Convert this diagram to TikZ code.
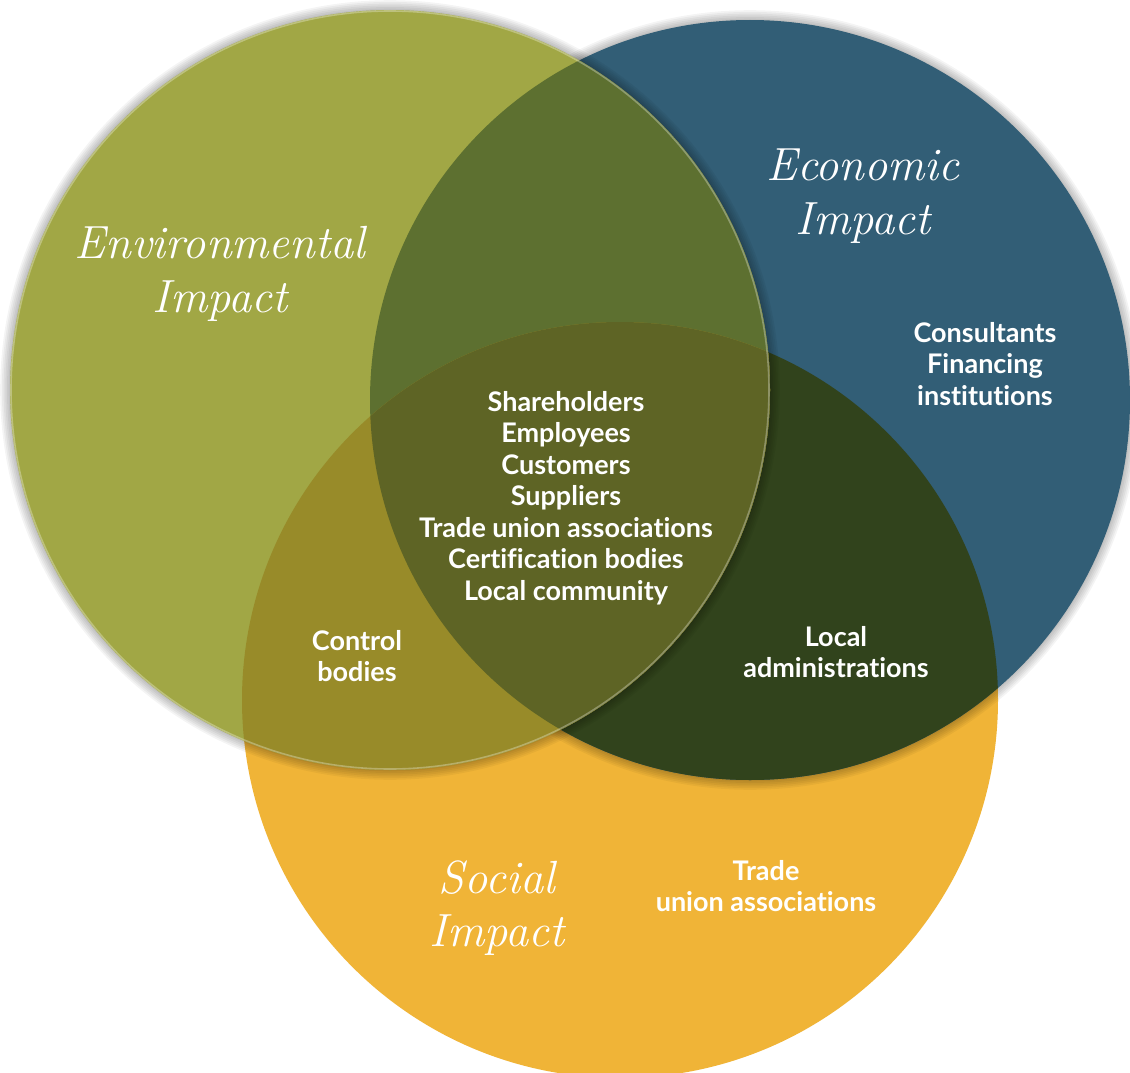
\documentclass[tikz,border=0pt]{standalone}
\usepackage{fontspec}
\setmainfont{Latin Modern Roman}
\newfontfamily\labelfont[Ligatures=NoCommon]{Lato}
\usetikzlibrary{calc}

\definecolor{envgreen}{HTML}{A1A745}
\definecolor{ecoblue}{HTML}{325E76}
\definecolor{socyellow}{HTML}{F0B437}
\definecolor{envEco}{HTML}{5D7030}
\definecolor{envSoc}{HTML}{988B29}
\definecolor{ecoSoc}{HTML}{31431C}
\definecolor{allThree}{HTML}{5E6425}

\tikzset{
  title/.style={text=white, align=center,
    font={\fontsize{46.5}{53.5}\selectfont\itshape}},
  stakeholders/.style={text=white, align=center,
    font={\labelfont\bfseries\fontsize{27}{31.5}\selectfont}},
  rim/.style={draw=white, draw opacity=0.3, line width=1.6pt}
}

% soft drop shadow: stacked translucent discs around a shifted centre
\newcommand{\softshadow}[1]{%
  \foreach \k in {1,...,14}
    \fill[black, opacity=0.045, shift={(9,12)}] (#1) circle[radius={366+1.7*\k}];
}

\begin{document}
\begin{tikzpicture}[x=1pt,y=-1pt]
  \useasboundingbox (0,0) rectangle (1130,1073);
  \clip (0,0) rectangle (1130,1073);
  \fill[white] (0,0) rectangle (1130,1073);

  \coordinate (G) at (390,390);
  \coordinate (B) at (750,400);
  \coordinate (Y) at (620,700);

  % social circle
  \fill[socyellow] (Y) circle[radius=378];

  % economic circle
  \softshadow{B}
  \fill[ecoblue] (B) circle[radius=380];
  \begin{scope}
    \clip (Y) circle[radius=378];
    \fill[ecoSoc] (B) circle[radius=380];
  \end{scope}

  % environmental circle
  \softshadow{G}
  \fill[envgreen] (G) circle[radius=380];
  \begin{scope}
    \clip (B) circle[radius=380];
    \fill[envEco] (G) circle[radius=380];
  \end{scope}
  \begin{scope}
    \clip (Y) circle[radius=378];
    \fill[envSoc] (G) circle[radius=380];
    \clip (B) circle[radius=380];
    \fill[allThree] (G) circle[radius=380];
  \end{scope}
  \draw[rim] (G) circle[radius=379];

  % titles
  \node[title] (envTitle) at (220,274) {Environmental\\Impact};
  \node[title] (ecoTitle) at (863,196) {Economic\\Impact};
  \node[title] (socTitle) at (497,908) {Social\\Impact};

  % stakeholder groups
  \node[stakeholders] (core) at (566,498)
    {Shareholders\\Employees\\Customers\\Suppliers\\Trade union associations\\Certification bodies\\Local community};
  \node[stakeholders] (ecoOnly) at (985,364) {Consultants\\Financing\\institutions};
  \node[stakeholders] (envSocOnly) at (357,656) {Control\\bodies};
  \node[stakeholders] (ecoSocOnly) at (836,652) {Local\\administrations};
  \node[stakeholders] (socOnly) at (766,886) {Trade\\union associations};
\end{tikzpicture}
\end{document}
